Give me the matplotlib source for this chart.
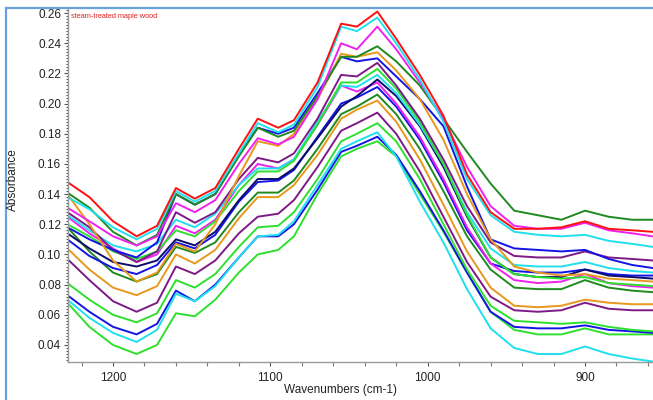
import matplotlib
matplotlib.use("Agg")
import matplotlib.pyplot as plt
from matplotlib.ticker import MultipleLocator
from matplotlib.lines import Line2D

plt.rcParams['font.family'] = ['Liberation Sans', 'DejaVu Sans']

# wavenumber grid (cm-1) the spectra were read at
wavenumbers = [1229, 1215, 1200, 1185, 1172, 1160, 1148, 1135, 1120, 1108, 1095, 1085, 1070,
               1055, 1045, 1032, 1020, 1005, 990, 975, 960, 945, 930, 915, 900, 885, 870, 857]

# absorbance of each spectrum
red = [.148, .138, .122, .112, .119, .144, .137, .144, .170, .190, .184, .189, .214, .253,
       .251, .261, .243, .219, .192, .153, .128, .117, .117, .118, .122, .117, .116, .115]
cyan1 = [.138, .130, .118, .110, .117, .142, .135, .142, .167, .187, .181, .186, .211, .251,
         .248, .257, .240, .216, .188, .150, .126, .115, .113, .112, .113, .109, .107, .105]
magenta1 = [.131, .122, .112, .106, .112, .134, .128, .136, .160, .177, .173, .178, .203, .240,
            .236, .251, .236, .214, .190, .158, .132, .119, .117, .117, .121, .116, .114, .112]
dkgreen1 = [.141, .131, .115, .106, .113, .140, .133, .140, .165, .184, .178, .182, .205, .231,
            .231, .238, .228, .212, .190, .168, .147, .129, .126, .123, .129, .125, .123, .123]
orange1 = [.140, .120, .096, .082, .088, .107, .102, .120, .152, .175, .172, .180, .203, .233,
           .231, .234, .222, .203, .176, .140, .110, .092, .088, .086, .087, .084, .083, .082]
blue1 = [.118, .110, .103, .098, .108, .140, .133, .140, .166, .184, .180, .184, .207, .231,
         .228, .230, .218, .203, .185, .145, .110, .104, .103, .102, .103, .097, .093, .091]
purple1 = [.128, .118, .103, .095, .102, .128, .121, .128, .150, .164, .161, .167, .190, .219,
           .218, .227, .212, .190, .163, .132, .108, .099, .098, .098, .102, .098, .097, .096]
green1 = [.120, .112, .102, .097, .102, .116, .112, .122, .142, .155, .155, .162, .186, .214,
          .214, .223, .210, .188, .160, .126, .098, .087, .085, .084, .085, .081, .080, .079]
cyan2 = [.126, .116, .106, .102, .107, .123, .118, .127, .146, .157, .157, .163, .188, .212,
         .211, .219, .207, .186, .160, .128, .104, .093, .092, .092, .095, .091, .089, .088]
navy = [.114, .104, .095, .092, .096, .110, .106, .115, .136, .150, .150, .157, .177, .198,
        .205, .216, .205, .185, .158, .125, .098, .087, .085, .085, .090, .086, .085, .084]
magenta2 = [.125, .114, .104, .095, .100, .119, .114, .123, .146, .160, .157, .163, .186, .212,
            .208, .214, .200, .178, .150, .118, .094, .083, .081, .082, .087, .081, .079, .078]
blue2 = [.110, .099, .091, .087, .093, .108, .104, .113, .135, .148, .149, .156, .178, .200,
         .204, .211, .198, .176, .148, .116, .094, .089, .088, .088, .090, .087, .086, .086]
dkgreen2 = [.118, .102, .088, .082, .087, .105, .101, .108, .128, .141, .141, .149, .170, .193,
            .198, .206, .193, .170, .142, .112, .090, .078, .077, .077, .083, .078, .076, .075]
orange2 = [.104, .090, .078, .073, .079, .100, .094, .103, .124, .138, .138, .146, .166, .190,
           .196, .202, .188, .163, .133, .102, .078, .066, .065, .066, .070, .068, .067, .067]
purple2 = [.097, .083, .069, .062, .068, .092, .087, .096, .114, .125, .127, .136, .158, .182,
           .187, .194, .180, .155, .125, .095, .072, .063, .062, .063, .068, .064, .063, .063]
green2 = [.081, .070, .060, .055, .061, .083, .078, .087, .105, .118, .119, .128, .150, .175,
          .180, .187, .175, .150, .120, .090, .066, .056, .055, .054, .055, .052, .050, .049]
cyan3 = [.070, .058, .048, .042, .050, .074, .069, .079, .098, .112, .113, .122, .146, .170,
         .175, .181, .165, .135, .108, .077, .051, .038, .034, .034, .039, .034, .031, .029]
blue3 = [.073, .062, .052, .047, .054, .076, .069, .080, .098, .112, .112, .120, .143, .168,
         .172, .178, .166, .142, .116, .088, .062, .052, .051, .051, .053, .050, .049, .048]
green3 = [.068, .052, .040, .034, .040, .061, .059, .070, .088, .100, .103, .112, .140, .165,
          .170, .175, .165, .140, .115, .088, .062, .050, .047, .047, .051, .047, .047, .047]

RED, CYAN, MAG, DKG = '#ff1010', '#20e0ee', '#f020f0', '#1f8a1f'
ORG, BLU, PUR, GRN, NAV = '#e8981c', '#1414e6', '#7e1a86', '#2ee02e', '#0c0c6e'

spectra = [
    (green3, GRN), (blue3, BLU), (cyan3, CYAN), (green2, GRN), (purple2, PUR),
    (orange2, ORG), (dkgreen2, DKG), (blue2, BLU), (magenta2, MAG), (navy, NAV),
    (cyan2, CYAN), (green1, GRN), (purple1, PUR), (blue1, BLU), (orange1, ORG),
    (dkgreen1, DKG), (magenta1, MAG), (cyan1, CYAN), (red, RED),
]

fig = plt.figure(figsize=(6.53, 4.0), dpi=100)
ax = fig.add_axes([68 / 653, 38 / 400, 1 - 68 / 653, (362 - 9) / 400])

for vals, col in spectra:
    ax.plot(wavenumbers, vals, color=col, lw=1.4, solid_joinstyle='round')

ax.set_xlim(1228.6, 856.8)
ax.set_ylim(0.0287, 0.2627)

ax.xaxis.set_major_locator(MultipleLocator(100))
ax.xaxis.set_minor_locator(MultipleLocator(20))
ax.yaxis.set_major_locator(MultipleLocator(0.02))
ax.yaxis.set_minor_locator(MultipleLocator(0.002))
ax.yaxis.set_major_formatter(plt.FuncFormatter(lambda v, p: '%.2f' % v))

for s in ['top', 'right']:
    ax.spines[s].set_visible(False)
for s in ['left', 'bottom']:
    ax.spines[s].set_color('#9a9a9a')
    ax.spines[s].set_linewidth(1.0)

ax.tick_params(axis='both', which='major', length=3, width=0.8, color='#555555',
               labelsize=8.5, labelcolor='#222222', pad=2)
ax.tick_params(axis='y', which='minor', length=1.5, width=0.8, color='#555555')
ax.tick_params(axis='x', which='minor', length=3, width=0.8, color='#777777')
ax.tick_params(axis='x', which='major', pad=4)

ax.text(0.005, 0.988, 'steam-treated maple wood', transform=ax.transAxes,
        color='#e02020', fontsize=5.3, va='top', ha='left')

fig.text(13 / 653, 1 - 180 / 400, 'Absorbance', rotation=90, fontsize=8.5,
         color='#222222', ha='center', va='center')
fig.text(340 / 653, 1 - 390 / 400, 'Wavenumbers (cm-1)', fontsize=8.5,
         color='#222222', ha='center', va='center')

# light blue window frame on top and left
frame = '#6aa3dc'
fig.add_artist(Line2D([6 / 653, 6 / 653], [0, 1 - 8 / 400], color=frame, lw=1.6,
                      transform=fig.transFigure))
fig.add_artist(Line2D([6 / 653, 1], [1 - 8 / 400, 1 - 8 / 400], color=frame, lw=1.6,
                      transform=fig.transFigure))

fig.savefig('out.png', dpi=100)
